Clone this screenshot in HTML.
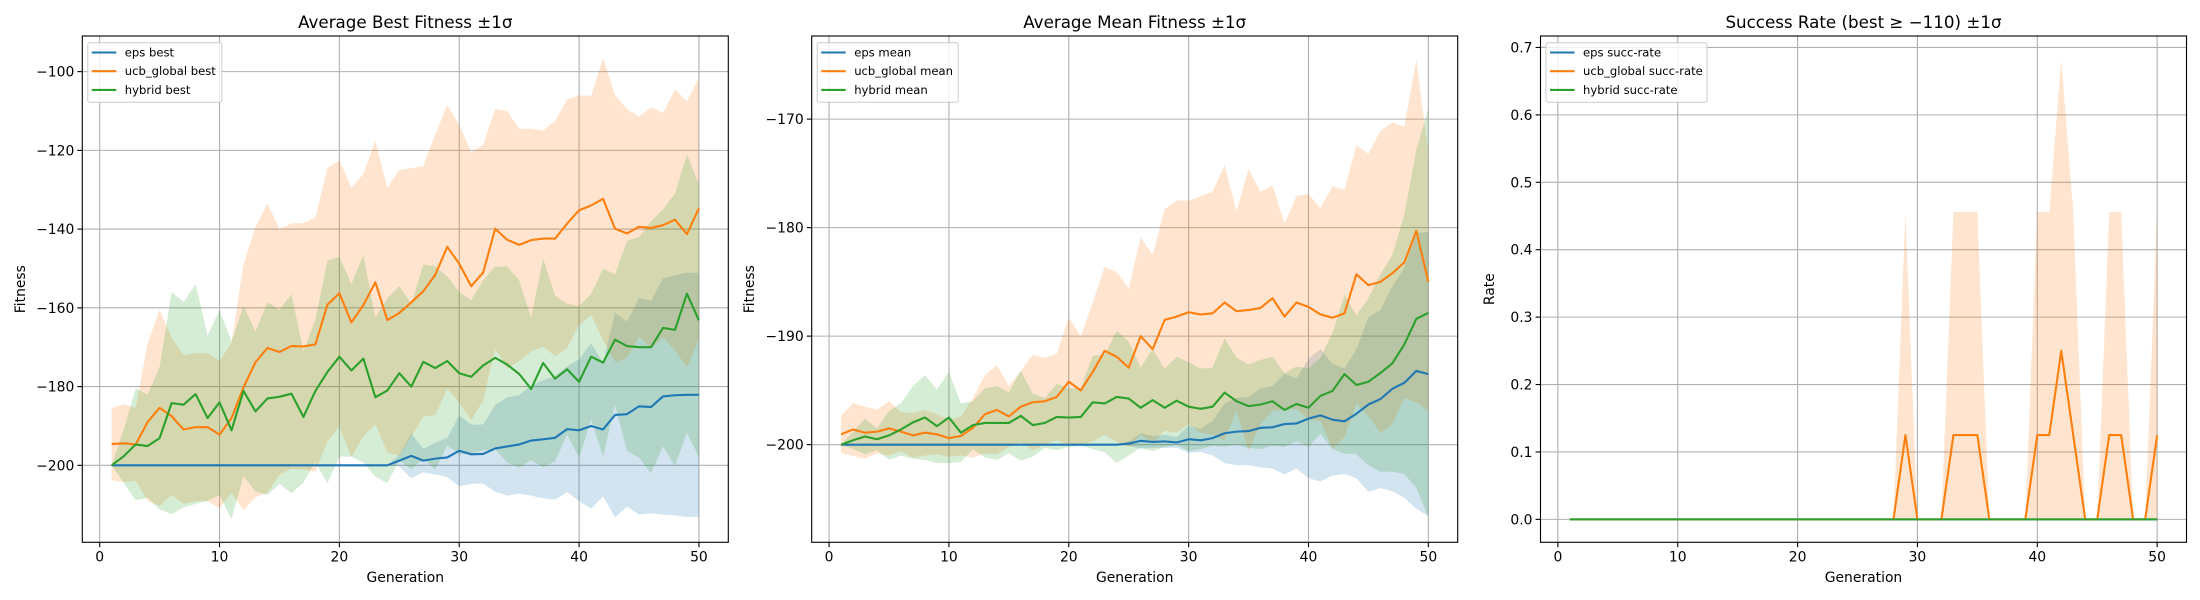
<!DOCTYPE html>
<html><head><meta charset="utf-8"><style>
html,body{margin:0;padding:0;background:#fff;}
svg{display:block;font-family:"DejaVu Sans","Liberation Sans",sans-serif;}
</style></head><body>
<svg id="fig" width="2200" height="600" viewBox="0 0 2200 600" xmlns="http://www.w3.org/2000/svg"></svg>
<script>
const gens = Array.from({length:50},(_,i)=>i+1);
const xTicks = [0,10,20,30,40,50];
// Panel 1: best fitness
const epsBest = [-200,-200,-200,-200,-200,-200,-200,-200,-200,-200,-200,-200,-200,-200,-200,-200,-200,-200,-200,-200,-200,-200,-200,-200,-198.8,-197.6,-198.8,-198.3,-198,-196.3,-197.2,-197.1,-195.7,-195.2,-194.7,-193.7,-193.4,-193,-190.8,-191.1,-190,-190.9,-187.2,-187,-185,-185.2,-182.5,-182.2,-182.1,-182.1];
const epsBestStd = [0,0,0,0,0,0,0,0,0,0,0,0,0,0,0,0,0,0,0,0,0,0,0,0,1.5,5.7,3,4,5,9,7.5,7.5,11,12.5,12.5,14,15,15.7,16,18,21,17,26,23.5,27.5,27,30,30.5,31,31];
const ucbBest = [-194.6,-194.4,-194.7,-189,-185.4,-187.5,-190.9,-190.3,-190.3,-192.2,-188,-180.2,-173.8,-170.2,-171.2,-169.7,-169.8,-169.3,-159.2,-156.3,-163.7,-159.3,-153.5,-163.1,-161.3,-158.6,-155.8,-151.6,-144.5,-148.8,-154.5,-151,-139.9,-142.7,-144,-142.8,-142.4,-142.4,-138.6,-135.2,-134,-132.3,-139.9,-141.1,-139.4,-139.7,-139,-137.6,-141.3,-134.7];
const ucbBestUpper = [-185.4,-184.5,-185.5,-169,-160.5,-167.5,-172,-171.5,-171.5,-173.5,-169,-149,-139.5,-133.5,-140,-138.5,-138.5,-137,-124.5,-122.5,-129.5,-126,-117.5,-129.5,-125,-124.5,-124,-116,-108.5,-113.5,-120.5,-118.5,-109.5,-110,-114.5,-114.5,-115,-112.5,-107,-106,-106.2,-96.5,-106,-109.5,-111.5,-109,-110.5,-104.5,-107.5,-101.5];
const hybBest = [-200,-197.7,-194.7,-195.1,-193.1,-184.2,-184.6,-181.9,-188,-184,-191.1,-181.1,-186.3,-183,-182.6,-181.8,-187.7,-181.1,-176.3,-172.4,-175.9,-172.9,-182.7,-181,-176.6,-180,-173.7,-175.3,-173.5,-176.6,-177.5,-174.6,-172.7,-174.4,-176.8,-180.6,-174,-178,-175.6,-178.8,-172.4,-173.9,-168.1,-169.7,-170,-170,-165.1,-165.6,-156.4,-163.2];
const hybBestUpper = [-200,-191,-180.5,-182,-175,-156,-158.5,-154,-167,-160.5,-168.5,-159.5,-166,-158.5,-160.5,-156.5,-171,-163,-148,-147,-154,-146.5,-162.5,-157.5,-154.5,-159,-149,-149.5,-152,-156,-158,-153,-149.5,-149.5,-153,-162.5,-147.5,-157,-159,-159.5,-156.5,-150,-151.5,-143,-142,-138,-135,-131,-121,-128.5];
// Panel 2: mean fitness
const epsMean = [-200,-200,-200,-200,-200,-200,-200,-200,-200,-200,-200,-200,-200,-200,-200,-200,-200,-200,-200,-200,-200,-200,-200,-200,-199.9,-199.65,-199.75,-199.7,-199.8,-199.5,-199.6,-199.4,-198.95,-198.8,-198.75,-198.45,-198.4,-198.1,-198.05,-197.6,-197.3,-197.7,-197.85,-197.15,-196.3,-195.8,-194.85,-194.3,-193.2,-193.5];
const epsMeanLower = [-200,-200,-200,-200,-200,-200,-200,-200,-200,-200,-200,-200,-200,-200,-200,-200,-200,-200,-200,-200,-200,-200,-200,-200,-200.1,-200.35,-200.3,-200.3,-200.3,-200.75,-200.65,-201,-201.7,-201.9,-201.9,-202.1,-202.2,-202.75,-202.2,-203.1,-203.4,-202.85,-202.7,-203.1,-204.35,-204,-204.3,-204.9,-205.9,-206.6];
const ucbMean = [-199.05,-198.6,-198.9,-198.8,-198.5,-198.8,-199.15,-198.9,-199.05,-199.4,-199.2,-198.45,-197.2,-196.8,-197.4,-196.5,-196.1,-196,-195.6,-194.2,-195,-193.3,-191.35,-191.9,-192.9,-190,-191.2,-188.5,-188.2,-187.8,-188,-187.9,-186.9,-187.7,-187.6,-187.4,-186.5,-188.2,-186.9,-187.3,-188,-188.3,-187.9,-184.3,-185.3,-185,-184.2,-183.2,-180.3,-185];
const ucbMeanUpper = [-197.35,-196.15,-196.5,-196.8,-196,-197,-197.1,-196.8,-197.2,-197.7,-197.4,-195.7,-193.6,-192.7,-194.6,-193.2,-191.7,-192,-191.6,-188.3,-190,-186.9,-183.6,-184.1,-185.6,-180.9,-182.5,-178.3,-177.5,-177.5,-177.1,-176.7,-174.2,-178.5,-174.6,-176.7,-176.1,-179.6,-177.1,-176.9,-178.2,-176.2,-176.5,-172.4,-173.2,-171.1,-170.3,-170.7,-164.5,-173.1];
const hybMean = [-200,-199.6,-199.25,-199.5,-199.15,-198.6,-197.95,-197.5,-198.3,-197.5,-198.9,-198.2,-198,-198,-198,-197.35,-198.2,-198,-197.45,-197.5,-197.45,-196.1,-196.2,-195.6,-195.75,-196.6,-195.9,-196.6,-195.95,-196.5,-196.7,-196.5,-195.2,-196,-196.45,-196.3,-196,-196.8,-196.25,-196.6,-195.5,-195.05,-193.5,-194.5,-194.2,-193.4,-192.5,-190.75,-188.4,-187.85];
const hybMeanUpper = [-200,-198.8,-197.6,-198.5,-196.9,-196.2,-194.6,-193.6,-194.9,-193.3,-196.2,-196,-194.8,-194.6,-195.2,-193.2,-195.3,-195.7,-194.4,-194.8,-194.8,-191.8,-191.7,-189.5,-190.5,-192.9,-191.2,-193,-191.9,-192.4,-193,-192.9,-190.2,-192,-192.6,-192.2,-191.9,-193.4,-192.8,-193,-192,-189.7,-186.2,-188.1,-186.5,-184.3,-182.5,-178.8,-172.8,-169];
// Panel 3: success rate
const epsSucc = gens.map(()=>0);
const hybSucc = gens.map(()=>0);
const ucbSucc = [0,0,0,0,0,0,0,0,0,0,0,0,0,0,0,0,0,0,0,0,0,0,0,0,0,0,0,0,0.125,0,0,0,0.125,0.125,0.125,0,0,0,0,0.125,0.125,0.25,0.125,0,0,0.125,0.125,0,0,0.125];
const ucbSuccStd = [0,0,0,0,0,0,0,0,0,0,0,0,0,0,0,0,0,0,0,0,0,0,0,0,0,0,0,0,0.331,0,0,0,0.331,0.331,0.331,0,0,0,0,0.331,0.331,0.433,0.331,0,0,0.331,0.331,0,0,0.331];

const NS="http://www.w3.org/2000/svg";
const svg=document.getElementById('fig');
function mk(tag,attrs,parent){const e=document.createElementNS(NS,tag);for(const k in attrs)e.setAttribute(k,attrs[k]);(parent||svg).appendChild(e);return e;}
const C={blue:'#1f77b4',orange:'#ff7f0e',green:'#2ca02c'};
const TOP=36,BOT=542.3,W=646;

function panel(o){
  const g=mk('g',{});
  
  
  const L=o.left,R=o.left+W;
  const xs=v=>L+(v-(-1.45))/(52.45+1.45)*(R-L);
  const ys=v=>BOT-(v-o.ymin)/(o.ymax-o.ymin)*(BOT-TOP);
  xTicks.forEach(t=>{const l=mk('line',{x1:xs(t),x2:xs(t),y1:TOP,y2:BOT,stroke:'#b0b0b0','stroke-width':1.1},g);
    });
  o.yTicks.forEach(t=>{const l=mk('line',{x1:L,x2:R,y1:ys(t),y2:ys(t),stroke:'#b0b0b0','stroke-width':1.1},g);
    });
  o.series.forEach(s=>{
    const up=s.mean.map((m,i)=>m+s.std[i]);
    const lo=s.mean.map((m,i)=>s.clip!==undefined?Math.max(s.clip,m-s.std[i]):m-s.std[i]);
    let d='M'+gens.map((x,i)=>xs(x)+','+ys(up[i])).join('L');
    d+='L'+gens.slice().reverse().map((x,j)=>{const i=49-j;return xs(x)+','+ys(lo[i]);}).join('L')+'Z';
    const p=mk('path',{d:d,fill:s.color,'fill-opacity':0.2,stroke:'none'},g);
    
  });
  o.series.forEach(s=>{
    const p=mk('polyline',{points:gens.map((x,i)=>xs(x)+','+ys(s.mean[i])).join(' '),fill:'none',stroke:s.color,'stroke-width':2.1,'stroke-linejoin':'round'},g);
    
  });
  const f=mk('rect',{x:L,y:TOP,width:R-L,height:BOT-TOP,fill:'none',stroke:'#000','stroke-width':1.1},g);
  
  xTicks.forEach(t=>{mk('line',{x1:xs(t),x2:xs(t),y1:BOT,y2:BOT+4.9,stroke:'#000','stroke-width':1.1},g);
    const tx=mk('text',{x:xs(t),y:BOT+19,'font-size':13.9,'text-anchor':'middle'},g);tx.textContent=t;
    });
  o.yTicks.forEach((t,i)=>{mk('line',{x1:L-4.9,x2:L,y1:ys(t),y2:ys(t),stroke:'#000','stroke-width':1.1},g);
    const tx=mk('text',{x:L-8,y:ys(t)+5,'font-size':13.9,'text-anchor':'end'},g);tx.textContent=o.yLabels[i];
    });
  const ti=mk('text',{x:(L+R)/2,y:28,'font-size':16.7,'text-anchor':'middle'},g);ti.textContent=o.title;
  
  const xl=mk('text',{x:(L+R)/2,y:582,'font-size':13.9,'text-anchor':'middle'},g);xl.textContent='Generation';
  
  const yx=o.ylabX;
  const yl=mk('text',{x:yx,y:(TOP+BOT)/2,'font-size':13.9,'text-anchor':'middle',transform:`rotate(-90 ${yx} ${(TOP+BOT)/2})`},g);yl.textContent=o.ylabel;
  
  const lg=mk('g',{},g);
  mk('rect',{x:L+5.5,y:42.7,width:o.legW,height:59.5,rx:2,fill:'#fff','fill-opacity':0.8,stroke:'#cccccc','stroke-width':1},lg);
  o.series.forEach((s,i)=>{const yy=52.5+i*18.7;
    const e=mk('g',{},lg);
    mk('line',{x1:L+9.5,x2:L+34,y1:yy,y2:yy,stroke:s.color,'stroke-width':2.1},e);
    const t=mk('text',{x:L+42.5,y:yy+4,'font-size':11.6},e);t.textContent=s.label;});
}
const dev=(m,b)=>m.map((v,i)=>b[i]-v);
panel({name:'best-fitness-panel',left:82.3,ymin:-219.55,ymax:-90.95,yTicks:[-200,-180,-160,-140,-120,-100],
  yLabels:['\u2212200','\u2212180','\u2212160','\u2212140','\u2212120','\u2212100'],title:'Average Best Fitness \u00b11\u03c3',ylabel:'Fitness',ylabX:25,legW:134,
  series:[{key:'eps-best',label:'eps best',color:C.blue,mean:epsBest,std:epsBestStd},
    {key:'ucb-best',label:'ucb_global best',color:C.orange,mean:ucbBest,std:dev(ucbBest,ucbBestUpper)},
    {key:'hybrid-best',label:'hybrid best',color:C.green,mean:hybBest,std:dev(hybBest,hybBestUpper)}]});
panel({name:'mean-fitness-panel',left:811.7,ymin:-209.0,ymax:-162.34,yTicks:[-200,-190,-180,-170],
  yLabels:['\u2212200','\u2212190','\u2212180','\u2212170'],title:'Average Mean Fitness \u00b11\u03c3',ylabel:'Fitness',ylabX:754,legW:141,
  series:[{key:'eps-mean',label:'eps mean',color:C.blue,mean:epsMean,std:epsMean.map((v,i)=>v-epsMeanLower[i])},
    {key:'ucb-mean',label:'ucb_global mean',color:C.orange,mean:ucbMean,std:dev(ucbMean,ucbMeanUpper)},
    {key:'hybrid-mean',label:'hybrid mean',color:C.green,mean:hybMean,std:dev(hybMean,hybMeanUpper)}]});
panel({name:'success-rate-panel',left:1540.5,ymin:-0.034,ymax:0.717,yTicks:[0,0.1,0.2,0.3,0.4,0.5,0.6,0.7],
  yLabels:['0.0','0.1','0.2','0.3','0.4','0.5','0.6','0.7'],title:'Success Rate (best \u2265 \u2212110) \u00b11\u03c3',ylabel:'Rate',ylabX:1494,legW:161,
  series:[{key:'eps-succ',label:'eps succ-rate',color:C.blue,mean:epsSucc,std:gens.map(()=>0),clip:0},
    {key:'ucb-succ',label:'ucb_global succ-rate',color:C.orange,mean:ucbSucc,std:ucbSuccStd,clip:0},
    {key:'hybrid-succ',label:'hybrid succ-rate',color:C.green,mean:hybSucc,std:gens.map(()=>0),clip:0}]});
</script>
</body></html>
